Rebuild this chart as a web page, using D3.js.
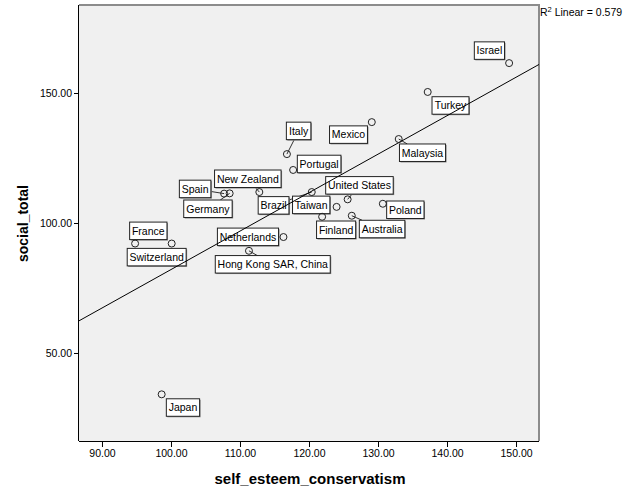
<!DOCTYPE html>
<html>
<head>
<meta charset="utf-8">
<script src="https://cdn.jsdelivr.net/npm/d3@7"></script>
<style>
  html, body { margin: 0; padding: 0; background: #fff; }
  svg { display: block; font-family: "Liberation Sans", Arial, sans-serif; }
</style>
</head>
<body>
<svg id="chart" width="626" height="501"></svg>
<script>
// ---- data ----
const countries = ["Israel","Turkey","Mexico","Malaysia","Italy","Portugal","New Zealand","Spain","Germany","Brazil",
  "United States","Taiwan","Finland","Australia","Poland","Netherlands","Hong Kong SAR, China","France","Switzerland","Japan"];
const selfEsteem = [149.0,137.2,129.1,133.0,116.8,117.7,112.8,107.7,108.5,120.4,
  125.6,124.0,121.9,126.2,130.7,116.3,111.3,94.8,100.1,98.65];
const socialTotal = [161.5,150.4,138.8,132.3,126.5,120.4,111.9,111.3,111.4,111.9,
  109.1,106.2,102.4,102.8,107.4,94.6,89.3,92.1,92.1,34.1];
const xTicks = [90,100,110,120,130,140,150];
const yTicks = [50,100,150];
const xTitle = "self_esteem_conservatism";
const yTitle = "social_total";
const r2Text = "0.579";

// ---- label layout (offset of label box centre from its point, px) ----
const labelOffsets = {
  "Israel":[-19.7,-12.5], "Turkey":[22.8,13.5], "Mexico":[-23.3,12.5], "Malaysia":[23.8,13.7],
  "Italy":[11.7,-23.2], "Portugal":[26,-6], "New Zealand":[-11.5,-13.3], "Spain":[-29,-4.7],
  "Germany":[-21.7,15.4], "Brazil":[-38.2,13.3], "Taiwan":[-25.4,-2], "United States":[11.8,-14],
  "Finland":[14,13], "Australia":[30.3,13.3], "Poland":[22.5,6], "Netherlands":[-35.5,-0.2],
  "Hong Kong SAR, China":[23.8,13.5], "France":[13.2,-12.7], "Switzerland":[-15,13.6], "Japan":[21.3,13.2]
};
const leaderLabels = new Set(["Italy","New Zealand","Spain","Germany","Brazil","United States",
  "Hong Kong SAR, China","Malaysia","Australia"]);

const data = countries.map((c,i)=>({name:c, x:selfEsteem[i], y:socialTotal[i]}));

const svg = d3.select("#chart");
const plot = {left:79, right:539, top:5, bottom:441};

const x = d3.scaleLinear().domain([86.67,153.33]).range([plot.left, plot.right]);
const y = d3.scaleLinear().domain([16.15,183.85]).range([plot.bottom, plot.top]);

// background
svg.append("rect").attr("x",plot.left).attr("y",plot.top)
  .attr("width",plot.right-plot.left).attr("height",plot.bottom-plot.top)
  .attr("fill","#f0f0f0");

svg.append("defs").append("clipPath").attr("id","clip")
  .append("rect").attr("x",plot.left).attr("y",plot.top)
  .attr("width",plot.right-plot.left).attr("height",plot.bottom-plot.top);

// top/right frame (gray)
svg.append("path")
  .attr("d",`M${plot.left},${plot.top}H${plot.right}V${plot.bottom}`)
  .attr("fill","none").attr("stroke","#8c8c8c").attr("stroke-width",2);

// axes
const tickFont = "10.5px";
const xAxis = d3.axisBottom(x).tickValues(xTicks).tickFormat(d3.format(".2f")).tickSize(6).tickSizeOuter(0);
const yAxis = d3.axisLeft(y).tickValues(yTicks).tickFormat(d3.format(".2f")).tickSize(5).tickSizeOuter(0);

const gx = svg.append("g").attr("transform",`translate(0,${plot.bottom})`).call(xAxis);
gx.select(".domain").attr("d",`M${plot.left},0.5H${plot.right}`).attr("stroke","#000");
gx.selectAll(".tick line").attr("stroke","#000");
gx.selectAll(".tick text").attr("font-size",tickFont).attr("fill","#000").attr("y",9)
  .attr("font-family","'Liberation Sans', Arial, sans-serif");

const gy = svg.append("g").attr("transform",`translate(${plot.left},0)`).call(yAxis);
gy.select(".domain").attr("d",`M-0.5,${plot.top}V${plot.bottom}`).attr("stroke","#000");
gy.selectAll(".tick line").attr("stroke","#000");
gy.selectAll(".tick text").attr("font-size",tickFont).attr("fill","#000").attr("x",-7)
  .attr("font-family","'Liberation Sans', Arial, sans-serif");

// axis titles
svg.append("text").attr("x",310).attr("y",484)
  .attr("text-anchor","middle").attr("font-size","15px").attr("font-weight","bold")
  .text(xTitle);
svg.append("text").attr("transform","translate(28,223.5) rotate(-90)")
  .attr("text-anchor","middle").attr("font-size","14px").attr("font-weight","bold")
  .text(yTitle);

// labels
const gl = svg.append("g");
data.forEach(d=>{
  const px = x(d.x), py = y(d.y);
  const off = labelOffsets[d.name] || [15,12];
  const cx = px+off[0], cy = py+off[1];
  const t = gl.append("text").attr("x",cx).attr("y",cy+3.8)
    .attr("text-anchor","middle").attr("font-size",tickFont).attr("fill","#000").text(d.name);
  const bb = t.node().getBBox();
  const w = bb.width+4.5, h = 17.5;
  const bx = cx-w/2, by = cy-h/2;
  // leader line: from the point towards the box centre, ending at the box edge
  if (leaderLabels.has(d.name)) {
    const dx = cx-px, dy = cy-py;
    const tx = dx !== 0 ? Math.min(Math.abs((dx>0?bx:bx+w)-px)/Math.abs(dx), 1) : 0;
    const ty = dy !== 0 ? Math.min(Math.abs((dy>0?by:by+h)-py)/Math.abs(dy), 1) : 0;
    const tt = Math.max(tx, ty);
    gl.insert("line", "text").attr("x1",px).attr("y1",py)
      .attr("x2",px+dx*tt).attr("y2",py+dy*tt)
      .attr("stroke","#333").attr("stroke-width",1);
  }
  gl.insert("rect", "text:last-child").attr("x",bx+1).attr("y",by+1).attr("width",w).attr("height",h)
    .attr("fill","#8a8a8a");
  gl.insert("rect", "text:last-child").attr("x",bx).attr("y",by).attr("width",w).attr("height",h)
    .attr("fill","#fff").attr("stroke","#222").attr("stroke-width",1);
});

// regression line (least squares from data)
const mx = d3.mean(selfEsteem), my = d3.mean(socialTotal);
const sxy = d3.sum(data, d=>(d.x-mx)*(d.y-my));
const sxx = d3.sum(data, d=>(d.x-mx)*(d.x-mx));
const slope = sxy/sxx, intercept = my - slope*mx;
const [x0,x1] = x.domain();
svg.append("line").attr("clip-path","url(#clip)")
  .attr("x1",x(x0)).attr("y1",y(intercept+slope*x0))
  .attr("x2",x(x1)).attr("y2",y(intercept+slope*x1))
  .attr("stroke","#000").attr("stroke-width",1);

// points
svg.append("g").selectAll("circle").data(data).join("circle")
  .attr("cx",d=>x(d.x)).attr("cy",d=>y(d.y)).attr("r",3.5)
  .attr("fill","none").attr("stroke","#222").attr("stroke-width",1);

// R² annotation
const rt = svg.append("text").attr("x",plot.right+1).attr("y",16).attr("font-size",tickFont).attr("fill","#000");
rt.append("tspan").text("R");
rt.append("tspan").attr("font-size","7.5px").attr("dy",-4).text("2");
rt.append("tspan").attr("dy",4).text(" Linear = " + r2Text);
</script>
</body>
</html>
